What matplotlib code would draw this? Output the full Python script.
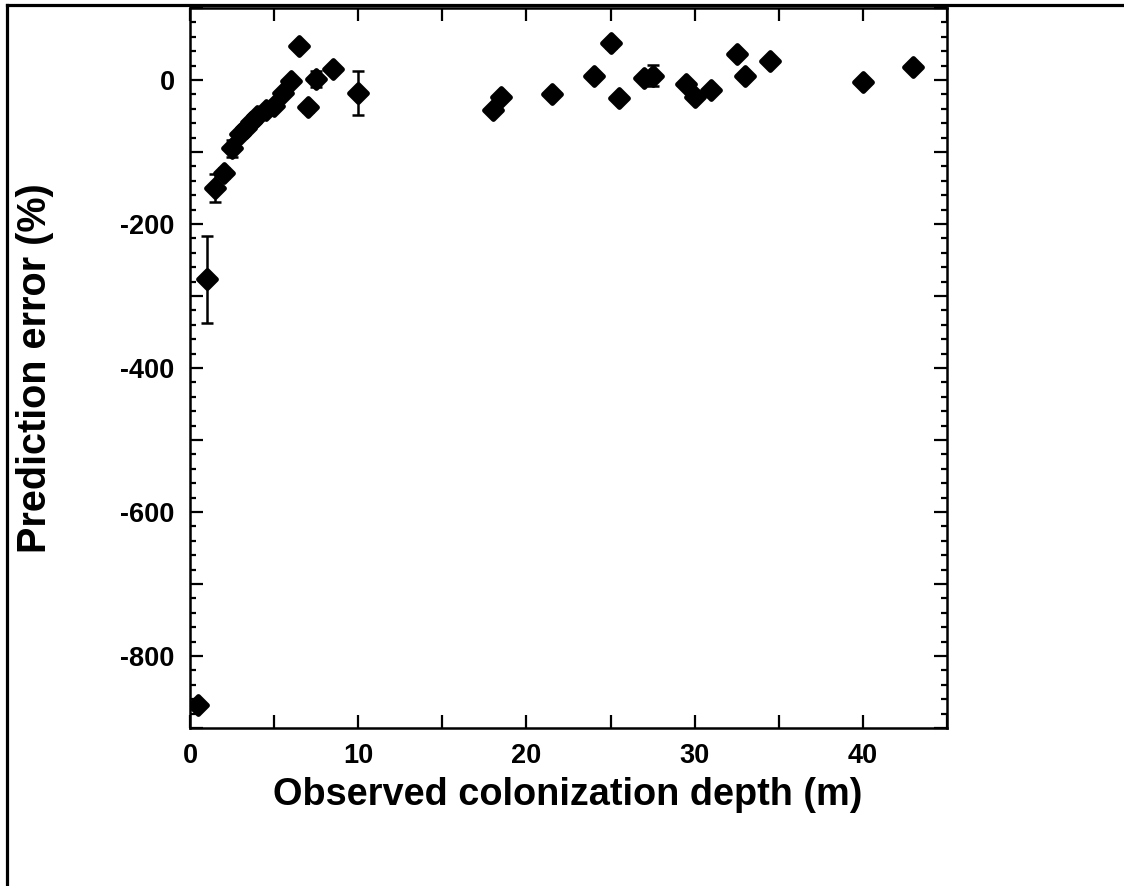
import numpy as np
import matplotlib
matplotlib.use("Agg")
from matplotlib import pyplot as plt
from matplotlib.ticker import MultipleLocator, FuncFormatter
from matplotlib.lines import Line2D
from matplotlib.markers import MarkerStyle

plt.rcParams['font.family'] = ['Liberation Sans', 'DejaVu Sans']
plt.rcParams['font.weight'] = 'bold'

# observed colonization depth (m) and prediction error (%)
depth = [0.5, 1.0, 1.5, 2.0, 2.5, 3.0, 3.3, 3.6, 4.0, 4.5, 5.0, 5.5, 6.0,
         6.5, 7.0, 7.5, 8.5, 10.0,
         18.0, 18.5, 21.5, 24.0, 25.0, 25.5, 27.0, 27.5, 29.5, 30.0, 31.0,
         32.5, 33.0, 34.5, 40.0, 43.0]
error = [-868, -277, -150, -129, -95, -75, -66, -59, -50, -41, -36, -18, -2,
         47, -38, 1, 15, -18,
         -42, -23, -20, 6, 51, -25, 3, 6, -5, -24, -14,
         36, 6, 27, -3, 18]
err_bar = [0, 61, 20, 7, 12, 0, 0, 0, 0, 0, 0, 0, 0,
           0, 6, 11, 0, 30,
           0, 0, 0, 0, 6, 0, 0, 15, 0, 0, 0,
           0, 0, 0, 0, 0]

fig = plt.figure(figsize=(11.24, 8.86), dpi=100)
ax = fig.add_axes([190/1124, 1-728/886, (947-190)/1124, (728-8)/886])

ax.errorbar(depth, error, yerr=err_bar, fmt='none', ecolor='black',
            elinewidth=1.8, capsize=4, capthick=1.8, zorder=2)
ax.plot(depth, error, linestyle='none',
        marker=MarkerStyle('D', joinstyle='round'), markersize=9,
        color='black', markeredgewidth=3.5, zorder=3)

ax.set_xlim(0, 45)
ax.set_ylim(-900, 100)

ax.xaxis.set_major_locator(MultipleLocator(5))
ax.xaxis.set_major_formatter(FuncFormatter(lambda v, p: '%d' % v if v % 10 == 0 else ''))
ax.yaxis.set_major_locator(MultipleLocator(100))
ax.yaxis.set_minor_locator(MultipleLocator(20))
ax.yaxis.set_major_formatter(FuncFormatter(lambda v, p: '%d' % v if v % 200 == 0 else ''))

ax.tick_params(which='both', direction='in', top=True, right=True,
               width=1.6, labelsize=19.5, pad=11)
ax.tick_params(which='major', length=9.5)
ax.tick_params(which='minor', length=4.5)
for lbl in ax.get_xticklabels() + ax.get_yticklabels():
    lbl.set_fontweight('bold')
for s in ax.spines.values():
    s.set_linewidth(1.8)

fig.text(568/1124, 1-795/886, 'Observed colonization depth (m)',
         ha='center', va='center', fontsize=27.3, fontweight='bold')
fig.text(35/1124, 1-368/886, 'Prediction error (%)', rotation=90,
         ha='center', va='center', fontsize=28.5, fontweight='bold')

# frame lines around the figure
fig.add_artist(Line2D([7/1124, 7/1124], [0, 1-5/886], color='black',
                      linewidth=2.3, transform=fig.transFigure))
fig.add_artist(Line2D([7/1124, 1], [1-5/886, 1-5/886], color='black',
                      linewidth=2.3, transform=fig.transFigure))

fig.savefig('out.png', dpi=100)
